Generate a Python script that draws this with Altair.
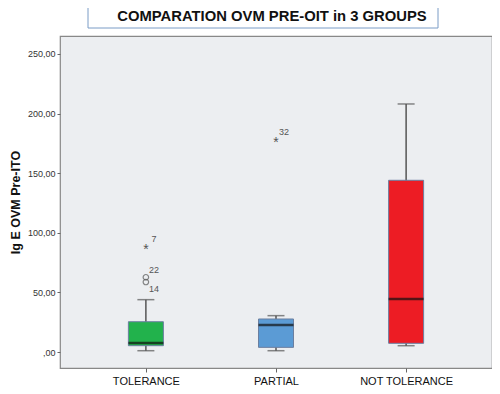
import altair as alt
import pandas as pd

groups = ["TOLERANCE", "PARTIAL", "NOT TOLERANCE"]
whisk_low = [1.1, 1.1, 5.3]
q1 = [5.3, 3.9, 7.3]
median = [7.5, 22.6, 44.5]
q3 = [25.4, 27.7, 144.0]
whisk_high = [43.9, 30.5, 208.0]
box_colors = ["#22b24c", "#5b9bd5", "#ed1c24"]

out_group = ["TOLERANCE", "TOLERANCE", "TOLERANCE", "PARTIAL"]
out_value = [88.9, 62.7, 58.7, 178.7]
out_label = ["7", "22", "14", "32"]
out_kind = ["extreme", "outlier", "outlier", "extreme"]

y_ticks = [0, 50, 100, 150, 200, 250]

boxes = pd.DataFrame({"group": groups, "lo": whisk_low, "q1": q1, "med": median,
                      "q3": q3, "hi": whisk_high, "color": box_colors})
outs = pd.DataFrame({"group": out_group, "value": out_value, "label": out_label, "kind": out_kind})

xscale = alt.Scale(type="point", domain=groups, padding=0.66)
x = alt.X("group:N", scale=xscale, sort=groups,
          axis=alt.Axis(title=None, labelAngle=0, labelFontSize=11, labelColor="#111",
                        labelFont="Liberation Sans", tickSize=4, tickColor="#666",
                        labelPadding=3, domain=False))
yscale = alt.Scale(domain=[-13.4, 265], nice=False, zero=False)
yaxis = alt.Axis(title="Ig E OVM Pre-ITO", titleFontSize=12.5, titleFont="Liberation Sans",
                 titleFontWeight="bold", titleColor="#111", titlePadding=5,
                 values=y_ticks, grid=False, domain=False, tickSize=3, tickColor="#666",
                 labelFontSize=9, labelFont="Liberation Sans", labelColor="#333",
                 labelExpr="datum.value == 0 ? ',00' : replace(format(datum.value, '.2f'), '.', ',')")

base = alt.Chart(boxes)

whisker = base.mark_rule(color="#555", strokeWidth=1.5).encode(
    x=x, y=alt.Y("lo:Q", scale=yscale, axis=yaxis), y2="hi:Q")
caps_lo = base.mark_tick(color="#555", size=17, thickness=1.5).encode(x=x, y=alt.Y("lo:Q", scale=yscale))
caps_hi = base.mark_tick(color="#555", size=17, thickness=1.5).encode(x=x, y=alt.Y("hi:Q", scale=yscale))
box = base.mark_bar(size=35, stroke="#6b7fa0", strokeWidth=1).encode(
    x=x, y=alt.Y("q1:Q", scale=yscale), y2="q3:Q",
    color=alt.Color("color:N", scale=None))
med = base.mark_tick(color="#111", size=35, thickness=2.5).encode(x=x, y=alt.Y("med:Q", scale=yscale))

ob = alt.Chart(outs)
stars = ob.transform_filter("datum.kind == 'extreme'").mark_text(
    text="*", fontSize=14, color="#555", dy=4, font="Liberation Sans").encode(
    x=x, y=alt.Y("value:Q", scale=yscale))
circles = ob.transform_filter("datum.kind == 'outlier'").mark_point(
    shape="circle", size=30, color="#555", strokeWidth=1.2, filled=False).encode(
    x=x, y=alt.Y("value:Q", scale=yscale))
lab_up = ob.transform_filter("datum.label != '14'").mark_text(
    fontSize=9, color="#555", dx=8, dy=-7, font="Liberation Sans").encode(
    x=x, y=alt.Y("value:Q", scale=yscale), text="label:N")
lab_dn = ob.transform_filter("datum.label == '14'").mark_text(
    fontSize=9, color="#555", dx=8, dy=7, font="Liberation Sans").encode(
    x=x, y=alt.Y("value:Q", scale=yscale), text="label:N")

title_box = alt.Chart(pd.DataFrame({"a": [0]})).mark_rect(
    fill="white", stroke="#7a9cc6", strokeWidth=1, clip=False).encode(
    x=alt.value(28), x2=alt.value(378), y=alt.value(-31), y2=alt.value(-8))
title_txt = alt.Chart(pd.DataFrame({"a": [0]})).mark_text(
    text="COMPARATION OVM PRE-OIT in 3 GROUPS", fontSize=14.8, fontWeight="bold",
    font="Liberation Sans", color="#111", clip=False, baseline="middle").encode(
    x=alt.value(212), y=alt.value(-19))

chart = alt.layer(whisker, caps_lo, caps_hi, box, med, stars, circles, lab_up, lab_dn,
                  title_box, title_txt).properties(
    width=432, height=332, autosize="none",
    padding={"left": 52, "top": 28, "right": 0, "bottom": 18},
    background="white",
).configure_view(fill="#eceef1", stroke="#888", strokeWidth=1.2)

chart.save("out.html", embed_options={"renderer": "svg", "actions": False})
